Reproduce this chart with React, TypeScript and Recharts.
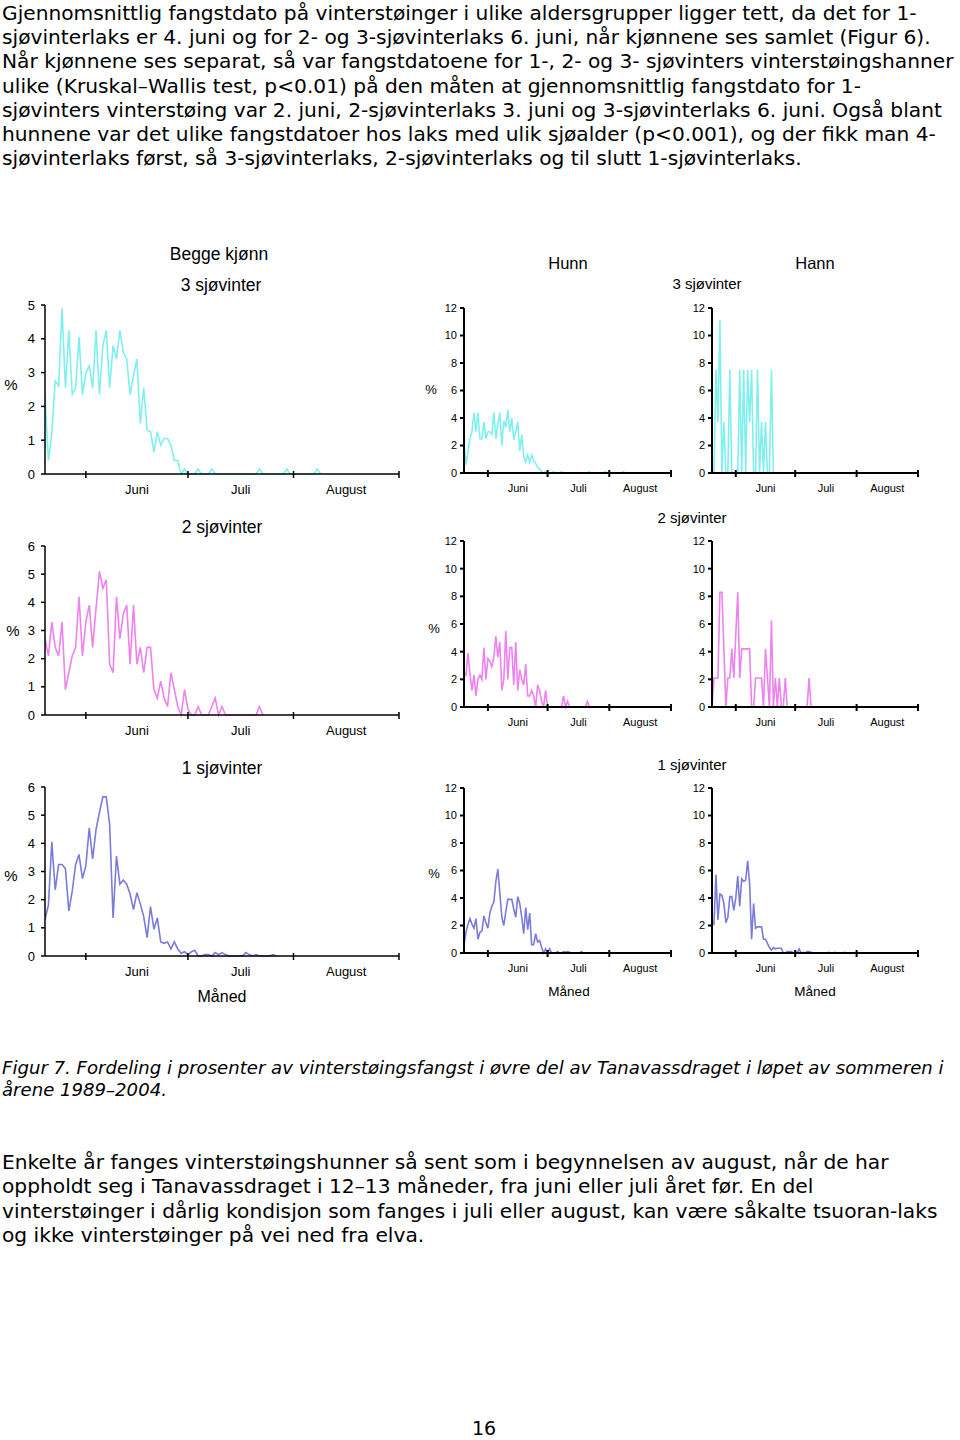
import React from 'react';
import { LineChart, Line, XAxis, YAxis } from 'recharts';

// ---------- text ----------
const PARA1 = [
  'Gjennomsnittlig fangstdato på vinterstøinger i ulike aldersgrupper ligger tett, da det for 1-',
  'sjøvinterlaks er 4. juni og for 2- og 3-sjøvinterlaks 6. juni, når kjønnene ses samlet (Figur 6).',
  'Når kjønnene ses separat, så var fangstdatoene for 1-, 2- og 3- sjøvinters vinterstøingshanner',
  'ulike (Kruskal–Wallis test, p<0.01) på den måten at gjennomsnittlig fangstdato for 1-',
  'sjøvinters vinterstøing var 2. juni, 2-sjøvinterlaks 3. juni og 3-sjøvinterlaks 6. juni. Også blant',
  'hunnene var det ulike fangstdatoer hos laks med ulik sjøalder (p<0.001), og der fikk man 4-',
  'sjøvinterlaks først, så 3-sjøvinterlaks, 2-sjøvinterlaks og til slutt 1-sjøvinterlaks.',
];
const CAPTION = [
  'Figur 7. Fordeling i prosenter av vinterstøingsfangst i øvre del av Tanavassdraget i løpet av sommeren i',
  'årene 1989–2004.',
];
const PARA2 = [
  'Enkelte år fanges vinterstøingshunner så sent som i begynnelsen av august, når de har',
  'oppholdt seg i Tanavassdraget i 12–13 måneder, fra juni eller juli året før. En del',
  'vinterstøinger i dårlig kondisjon som fanges i juli eller august, kan være såkalte tsuoran-laks',
  'og ikke vinterstøinger på vei ned fra elva.',
];
const PAGE_NO = '16';

// ---------- axis ----------
const MONTH_BOUNDS = [12, 42, 73, 104];
const MONTH_MIDS = [27, 57.5, 88.5];
const MONTH_LABELS = ['Juni', 'Juli', 'August'];
const X_DOMAIN: [number, number] = [0, 104];
const Y_TICKS_5 = [0, 1, 2, 3, 4, 5];
const Y_TICKS_6 = [0, 1, 2, 3, 4, 5, 6];
const Y_TICKS_12 = [0, 2, 4, 6, 8, 10, 12];

// ---------- series (daily %, starting ~20 May) ----------
const begge3 = [2.3,0.4,1.2,2.75,2.6,4.9,2.55,4.25,2.35,2.55,4.05,2.35,3.0,3.2,2.55,4.25,2.35,3.8,4.25,2.55,3.8,3.4,4.25,3.6,3.4,2.35,2.9,3.4,1.5,2.55,1.3,1.25,0.65,1.25,0.85,1.05,1.05,0.85,0.4,0.4,0,0.15,0,0,0,0.15,0,0,0,0.15,0,0,0,0,0,0,0,0,0,0,0,0,0,0.15,0,0,0,0,0,0,0,0.15,0,0,0,0,0,0,0,0,0.15,0];
const hunn3 = [2.4,0.6,1.5,2.5,3.0,4.4,3.0,4.4,2.5,2.5,3.7,2.5,3.0,3.0,2.8,4.4,2.5,3.5,4.4,2.0,3.8,3.3,4.6,3.0,4.0,2.4,3.0,3.7,1.6,2.8,1.2,0.8,1.3,0.8,1.3,0.9,0.7,0.4,0.3,0.1,0,0.1,0,0,0,0.1,0,0,0,0.1,0,0,0,0,0,0,0,0,0,0,0,0,0,0.1,0,0,0,0,0,0,0,0.1,0,0,0,0,0,0,0,0,0.1,0];
const hann3 = [0,0,7.5,3.7,11.1,0,3.7,0,0,7.5,0,0,0,0,7.5,0,7.5,0,7.5,3.7,7.5,0,0,7.5,0,3.7,0,3.7,0,0,7.5,0];
const begge2 = [2.7,2.1,3.3,2.4,2.1,3.3,0.9,1.5,2.1,2.4,4.2,2.1,3.3,3.9,2.4,3.8,5.1,4.5,4.8,1.8,1.5,4.2,2.7,3.6,3.9,1.8,3.9,1.8,2.4,1.5,2.4,2.4,0.9,0.6,1.2,0.6,0.3,1.5,0.9,0.3,0,0.9,0.2,0,0,0.3,0,0,0,0.3,0.6,0,0.3,0,0,0,0,0,0,0,0,0,0,0.3,0];
const hunn2 = [2.5,2.3,3.9,2.4,1.2,2.3,0.8,2.0,2.3,2.0,4.3,2.0,3.5,3.3,2.9,3.6,5.1,3.6,4.7,1.2,2.0,5.5,2.0,4.3,4.3,1.6,4.7,1.2,2.7,2.0,1.6,3.1,0.8,0.8,1.2,0.8,0,1.6,1.2,0.4,0,1.2,0,0,0,0,0,0,0,0,0.8,0,0.4,0,0,0,0,0,0,0,0,0,0.4,0];
const hann2 = [0,2.1,2.1,2.1,8.3,8.3,4.2,0,2.1,2.1,4.2,2.1,5.2,8.3,2.1,4.2,4.2,4.2,4.2,4.2,0,0,2.1,2.1,2.1,2.1,0,4.2,2.1,0,6.25,0,2.1,0,2.1,0,0,2.1,0,0,0,0,0,0,0,0,0,0,0,2.1,0];
const begge1 = [1.3,1.8,4.05,2.35,3.25,3.25,3.1,1.6,2.3,3.25,3.6,2.75,3.2,4.55,3.45,4.5,5.1,5.65,5.65,4.65,1.35,3.55,2.55,2.7,2.55,2.2,1.65,2.25,1.85,1.4,0.65,1.75,0.95,1.35,0.5,0.45,0.5,0.25,0.5,0.25,0.1,0.15,0.05,0.15,0.2,0,0,0.05,0.05,0,0.12,0.05,0.12,0.05,0,0,0,0,0,0.12,0.05,0,0.05,0,0,0,0,0.05,0];
const hunn1 = [0.6,1.5,2.1,2.5,2.1,1.8,2.5,1.0,1.5,1.6,2.7,2.2,1.8,2.9,3.4,3.7,5.2,6.1,4.4,2.6,2.0,3.0,3.9,3.9,3.9,3.2,2.6,4.1,3.6,2.6,1.4,3.3,1.7,2.9,0.6,0.6,1.4,0.8,0.9,0.4,0,0.3,0,0.3,0,0,0,0.1,0,0,0.1,0.05,0.1,0.05,0,0,0,0,0,0.1,0];
const hann1 = [2.2,2.1,5.7,2.4,4.3,4.2,3.6,2.2,2.6,4.1,4.1,3.1,4.0,5.6,3.4,5.4,5.2,5.3,6.7,5.0,1.0,3.6,1.8,1.9,1.9,1.9,1.0,1.0,0.7,0.4,0.2,0.4,0.3,0.35,0.35,0.35,0,0,0.1,0.1,0.1,0,0.1,0,0.3,0,0.05,0,0.1,0.1,0.05,0,0,0,0,0,0,0,0,0.05,0,0,0.05,0,0,0,0,0.05,0];

const CYAN = '#7ff0ee';
const PINK = '#ee82ee';
const BLUE = '#7b7bdc';

const SANS = '"Liberation Sans", Arial, sans-serif';
const VERD = '"DejaVu Sans", Verdana, sans-serif';

type TxtProps = { x: number; y: number; size: number; family?: string; anchor?: 'start' | 'middle'; italic?: boolean; children: React.ReactNode };
const Txt = ({ x, y, size, family = SANS, anchor = 'start', italic, children }: TxtProps) => (
  <div
    style={{
      position: 'absolute', left: x, top: y,
      transform: `translate(${anchor === 'middle' ? '-50%' : '0'}, -50%)`,
      fontSize: size, fontFamily: family, whiteSpace: 'nowrap', lineHeight: 1,
      fontStyle: italic ? 'italic' : 'normal', color: '#000',
    }}
  >
    {children}
  </div>
);

const makeTick = (fontSize: number, dy: number, sw: number) => (props: any) => {
  const { x, y, payload } = props;
  const v = payload.value;
  const mi = MONTH_MIDS.indexOf(v);
  if (mi >= 0) {
    return (
      <text x={x} y={y + dy} textAnchor="middle" dominantBaseline="central" fontSize={fontSize} fontFamily={SANS} fill="#000">
        {MONTH_LABELS[mi]}
      </text>
    );
  }
  return <line x1={x} x2={x} y1={y - 3} y2={y + 4} stroke="#000" strokeWidth={sw} />;
};

type PanelProps = { values: number[]; color: string; x: number; top: number; w: number; h: number; yMax: number; yTicks: number[]; big: boolean };
const Panel = ({ values, color, x, top, w, h, yMax, yTicks, big }: PanelProps) => {
  const YW = 40, MT = 8, MR = 8, XH = 26;
  const data = values.map((v, i) => ({ d: i, v }));
  const fs = big ? 13 : 11;
  const sw = big ? 1.5 : 2;
  return (
    <div style={{ position: 'absolute', left: x - YW, top: top - MT }}>
      <LineChart width={YW + w + MR} height={MT + h + XH} data={data} margin={{ top: MT, right: MR, left: 0, bottom: 0 }}>
        <XAxis
          dataKey="d" type="number" domain={X_DOMAIN} allowDataOverflow
          ticks={[...MONTH_BOUNDS, ...MONTH_MIDS]} interval={0}
          height={XH} tickLine={false} tickSize={0} tickMargin={0}
          axisLine={{ stroke: '#000', strokeWidth: sw }}
          tick={makeTick(fs, big ? 15.5 : 14.5, sw)}
        />
        <YAxis
          type="number" domain={[0, yMax]} ticks={yTicks} interval={0} width={YW}
          tickSize={4} tickMargin={big ? 6 : 3}
          axisLine={{ stroke: '#000', strokeWidth: sw }}
          tickLine={{ stroke: '#000', strokeWidth: sw }}
          tick={{ fill: '#000', fontSize: fs, fontFamily: SANS }}
        />
        <Line type="linear" dataKey="v" stroke={color} strokeWidth={1.6} dot={false} isAnimationActive={false} />
      </LineChart>
    </div>
  );
};

export default function App() {
  return (
    <div style={{ position: 'absolute', left: 0, top: 0, width: 960, height: 1440, background: '#fff', overflow: 'hidden' }}>
      {PARA1.map((t, i) => (
        <Txt key={'p1' + i} x={2} y={13 + i * 24.2} size={20.2} family={VERD}>{t}</Txt>
      ))}

      {/* titles */}
      <Txt x={219} y={255} size={17.5} anchor="middle">Begge kjønn</Txt>
      <Txt x={221} y={286} size={17.5} anchor="middle">3 sjøvinter</Txt>
      <Txt x={568} y={263} size={16.5} anchor="middle">Hunn</Txt>
      <Txt x={815} y={263} size={16.5} anchor="middle">Hann</Txt>
      <Txt x={707} y={283} size={15} anchor="middle">3 sjøvinter</Txt>
      <Txt x={222} y={528} size={17.5} anchor="middle">2 sjøvinter</Txt>
      <Txt x={692} y={517} size={15} anchor="middle">2 sjøvinter</Txt>
      <Txt x={222} y={769} size={17.5} anchor="middle">1 sjøvinter</Txt>
      <Txt x={692} y={764} size={15} anchor="middle">1 sjøvinter</Txt>
      <Txt x={222} y={997} size={16} anchor="middle">Måned</Txt>
      <Txt x={569} y={992} size={13.5} anchor="middle">Måned</Txt>
      <Txt x={815} y={992} size={13.5} anchor="middle">Måned</Txt>

      <Txt x={11} y={384} size={15} anchor="middle">%</Txt>
      <Txt x={13} y={630} size={15} anchor="middle">%</Txt>
      <Txt x={11} y={875} size={15} anchor="middle">%</Txt>
      <Txt x={431} y={389} size={13} anchor="middle">%</Txt>
      <Txt x={434} y={628} size={13} anchor="middle">%</Txt>
      <Txt x={434} y={873} size={13} anchor="middle">%</Txt>

      <Panel values={begge3} color={CYAN} x={45} top={305} w={354} h={169} yMax={5} yTicks={Y_TICKS_5} big />
      <Panel values={hunn3} color={CYAN} x={464} top={308} w={207} h={165} yMax={12} yTicks={Y_TICKS_12} big={false} />
      <Panel values={hann3} color={CYAN} x={712} top={308} w={206} h={165} yMax={12} yTicks={Y_TICKS_12} big={false} />

      <Panel values={begge2} color={PINK} x={45} top={546} w={354} h={169} yMax={6} yTicks={Y_TICKS_6} big />
      <Panel values={hunn2} color={PINK} x={464} top={541} w={207} h={166} yMax={12} yTicks={Y_TICKS_12} big={false} />
      <Panel values={hann2} color={PINK} x={712} top={541} w={206} h={166} yMax={12} yTicks={Y_TICKS_12} big={false} />

      <Panel values={begge1} color={BLUE} x={45} top={787} w={354} h={169} yMax={6} yTicks={Y_TICKS_6} big />
      <Panel values={hunn1} color={BLUE} x={464} top={788} w={207} h={165} yMax={12} yTicks={Y_TICKS_12} big={false} />
      <Panel values={hann1} color={BLUE} x={712} top={788} w={206} h={165} yMax={12} yTicks={Y_TICKS_12} big={false} />

      {CAPTION.map((t, i) => (
        <Txt key={'c' + i} x={2} y={1068 + i * 22} size={18.1} family={VERD} italic>{t}</Txt>
      ))}
      {PARA2.map((t, i) => (
        <Txt key={'p2' + i} x={2} y={1162 + i * 24.3} size={20.2} family={VERD}>{t}</Txt>
      ))}
      <Txt x={484} y={1428} size={19} family={VERD} anchor="middle">{PAGE_NO}</Txt>
    </div>
  );
}
